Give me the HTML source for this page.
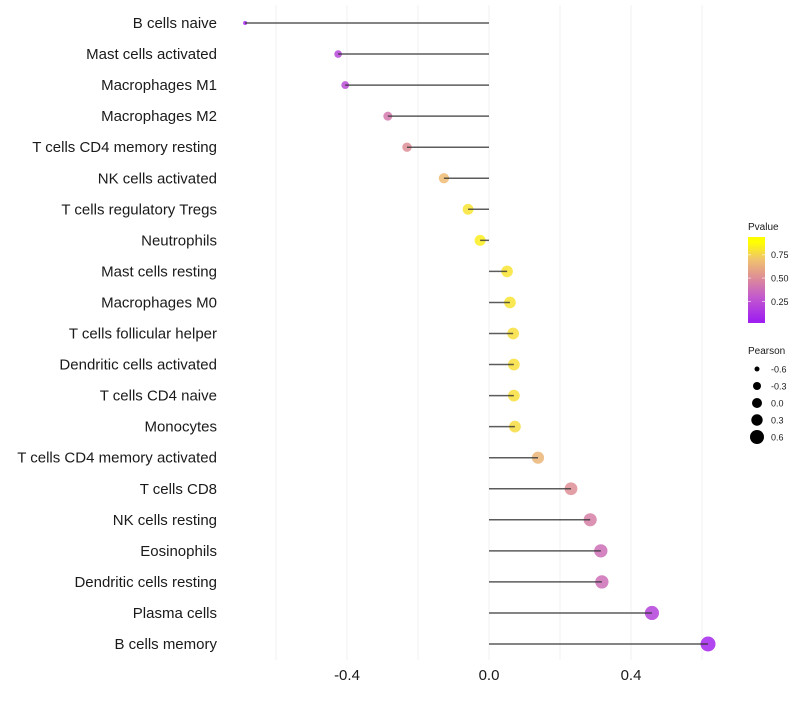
<!DOCTYPE html>
<html><head><meta charset="utf-8"><style>
body{margin:0;background:#fff;font-family:"Liberation Sans",sans-serif}
</style></head><body>
<svg id="c" width="800" height="700" xmlns="http://www.w3.org/2000/svg"></svg>
<script>
const cats=["B cells naive","Mast cells activated","Macrophages M1","Macrophages M2","T cells CD4 memory resting","NK cells activated","T cells regulatory  Tregs ","Neutrophils","Mast cells resting","Macrophages M0","T cells follicular helper","Dendritic cells activated","T cells CD4 naive","Monocytes","T cells CD4 memory activated","T cells CD8","NK cells resting","Eosinophils","Dendritic cells resting","Plasma cells","B cells memory"];
const pearson=[-0.687,-0.425,-0.405,-0.285,-0.231,-0.127,-0.059,-0.025,0.051,0.059,0.068,0.07,0.07,0.073,0.138,0.231,0.285,0.315,0.318,0.459,0.617];
const pvals=[0.03,0.2,0.22,0.45,0.55,0.75,0.9,0.94,0.9,0.9,0.88,0.88,0.88,0.87,0.72,0.55,0.48,0.4,0.4,0.17,0.03];
const xTicks=[-0.4,0.0,0.4];
const xGrid=[-0.6,-0.4,-0.2,0,0.2,0.4,0.6];
const legP=[0.75,0.50,0.25];
const legS=[-0.6,-0.3,0.0,0.3,0.6];
const NS="http://www.w3.org/2000/svg";
const svg=document.getElementById('c');
const X=v=>489+v*355;
const Y=i=>23+i*31.05;
const R=v=>Math.sqrt(Math.max(31.6+40*v,2));
const RL=v=>[2.5,4,5,5.7,7][legS.indexOf(v)]||5;
const stops=[[0,[160,32,240]],[0.3,[195,90,205]],[0.55,[222,142,150]],[0.78,[240,195,110]],[1,[255,255,0]]];
function col(p){for(let k=1;k<stops.length;k++){if(p<=stops[k][0]){const a=stops[k-1],b=stops[k],t=(p-a[0])/(b[0]-a[0]);return 'rgb('+a[1].map((c,j)=>Math.round(c+(b[1][j]-c)*t)).join(',')+')';}}return 'rgb(255,255,0)';}
function el(t,a,txt){const e=document.createElementNS(NS,t);for(const k in a)e.setAttribute(k,a[k]);if(txt!=null)e.textContent=txt;svg.appendChild(e);return e;}
xGrid.forEach(v=>{const e=el('line',{x1:X(v),x2:X(v),y1:5,y2:660,stroke:'#f0f0f0','stroke-width':1});

});
cats.forEach((c,i)=>{
const t=el('text',{x:217,y:Y(i)+5,'text-anchor':'end','font-size':15,fill:'#1a1a1a'},c);


const d=el('circle',{cx:X(pearson[i]),cy:Y(i),r:R(pearson[i]),fill:col(pvals[i]),'fill-opacity':0.85});


const l=el('line',{x1:X(0),x2:X(pearson[i]),y1:Y(i),y2:Y(i),stroke:'#333','stroke-width':1.5,'stroke-opacity':0.8});


});
xTicks.forEach(v=>{const t=el('text',{x:X(v),y:680,'text-anchor':'middle','font-size':15,fill:'#1a1a1a'},v.toFixed(1));

});
const defs=el('defs',{});
const g=document.createElementNS(NS,'linearGradient');g.setAttribute('id','gr');g.setAttribute('x1','0');g.setAttribute('y1','1');g.setAttribute('x2','0');g.setAttribute('y2','0');
stops.forEach(s=>{const st=document.createElementNS(NS,'stop');st.setAttribute('offset',(0.03+s[0]*0.91)/1);st.setAttribute('stop-color','rgb('+s[1].join(',')+')');g.appendChild(st);});
defs.appendChild(g);
const lt=el('text',{x:748,y:230,'font-size':10,fill:'#1a1a1a'},'Pvalue');


const bar=el('rect',{x:748,y:237,width:17,height:86,fill:'url(#gr)'});


const PY=p=>322-(p-0.03)/0.91*85;
legP.forEach(p=>{const t=el('text',{x:771,y:PY(p)+3.5,'font-size':9,fill:'#1a1a1a'},p.toFixed(2));


el('line',{x1:748,x2:751,y1:PY(p),y2:PY(p),stroke:'#fff','stroke-opacity':0.6});
el('line',{x1:762,x2:765,y1:PY(p),y2:PY(p),stroke:'#fff','stroke-opacity':0.6});});
const st2=el('text',{x:748,y:354,'font-size':10,fill:'#1a1a1a'},'Pearson');


legS.forEach((v,k)=>{const y=369+k*17;
const c=el('circle',{cx:757,cy:y,r:RL(v),fill:'#000'});


const t=el('text',{x:771,y:y+3.5,'font-size':9,fill:'#1a1a1a'},v.toFixed(1));

});
</script>
</body></html>
